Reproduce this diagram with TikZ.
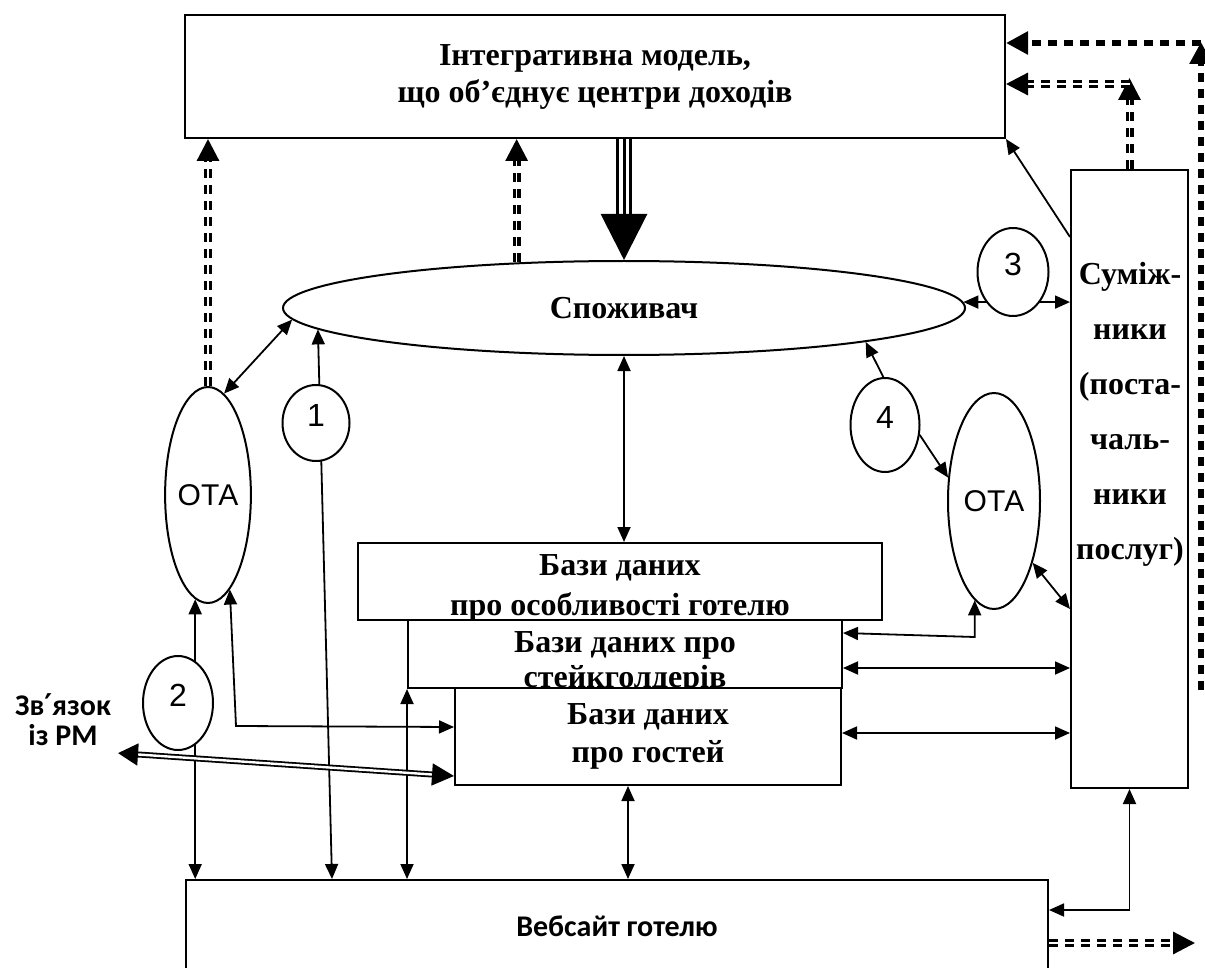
\documentclass[tikz,border=0pt]{standalone}
\usepackage{fontspec}
\setmainfont{Liberation Serif}
\newfontfamily\otafont{Liberation Sans}
\newfontfamily\calfont{Carlito}
\newfontfamily\symfont{DejaVu Sans}
\usetikzlibrary{arrows.meta,calc,shapes.geometric}

\begin{document}
\begin{tikzpicture}[x=0.5pt,y=-0.5pt,
  >={Triangle[length=7.5pt,width=6.5pt]},
  box/.style={draw,line width=1pt,fill=white,inner sep=0pt,align=center,font=\bfseries\fontsize{16}{19}\selectfont},
  dbtext/.style={inner sep=0pt,align=center},
  oval/.style={draw,line width=1pt,ellipse,fill=white,inner sep=0pt},
  num/.style={oval,font=\otafont\fontsize{16}{18}\selectfont,text height=11.5pt,text depth=8pt},
  con/.style={line width=0.9pt},
  dsh/.style={double,double distance=0.8pt,line width=1.6pt,dash pattern=on 4.5pt off 3.5pt,-{Triangle[length=11pt 0,width=11pt 0]}},
  dshb/.style={line width=3pt,dash pattern=on 4.5pt off 3.5pt,-{Triangle[length=11pt 0,width=11pt 0]}}]
\useasboundingbox (0,0) rectangle (1205,968);
\clip (0,0) rectangle (1205,968);

\coordinate (farR) at (1201,690);
\coordinate (out) at (1195,943);

\node[box,minimum width=410pt,minimum height=61.5pt,font=\bfseries\fontsize{16}{18.5}\selectfont] (integr) at (595,76.5) {Інтегративна модель,\\що об’єднує центри доходів};
\node[oval,minimum width=341pt,minimum height=47pt,font=\bfseries\fontsize{16}{19}\selectfont] (cons) at (624,308) {Споживач};
\node[box,minimum width=58.5pt,minimum height=309pt] (supp) at (1129.5,479) {};
\node[font=\bfseries\fontsize{16}{27.5}\selectfont,align=center] (supptext) at (1130,414) {Суміж-\\ники\\(поста-\\чаль-\\ники\\послуг)};
\node[oval,minimum width=39pt,minimum height=108pt,font=\otafont\fontsize{15}{18}\selectfont] (otaL) at (208,495) {ОТА};
\node[oval,minimum width=46pt,minimum height=108pt,font=\otafont\fontsize{15}{18}\selectfont] (otaR) at (994,501) {ОТА};

% stacked data bases, each one covers the lower edge of the one above
\node[box,minimum width=262pt,minimum height=38.5pt] (dbA) at (620,581.5) {};
\node[dbtext,font=\bfseries\fontsize{16}{20}\selectfont] (dbAtext) at ($(dbA)+(0,7)$) {Бази даних\\про особливості готелю};
\node[box,minimum width=217pt,minimum height=34pt] (dbB) at (625,654) {};
\node[dbtext,font=\bfseries\fontsize{16}{17.5}\selectfont] (dbBtext) at ($(dbB)+(0,9)$) {Бази даних про\\стейкголдерів};
\node[box,minimum width=193pt,minimum height=48.5pt,font=\bfseries\fontsize{16}{19}\selectfont] (dbC) at (648,736.5) {Бази даних\\про гостей};
\node[box,minimum width=431pt,minimum height=46pt,font=\calfont\bfseries\fontsize{15}{18}\selectfont] (web) at (617,926) {Вебсайт готелю};
\node[font=\calfont\bfseries\fontsize{15}{15}\selectfont,align=center] (rm) at (63,720) {Зв{\symfont ′}язок\\із РМ};

% dashed flows to the integrative model
\draw[dsh] (otaL.north) -- (otaL.north |- integr.south);
\draw[dsh] (cons.157) -- (cons.157 |- integr.south);
\draw[dsh] (supp.north) -- (supp.north |- 0,78);
\draw[dsh] (supp.north |- 0,84) -- (integr.east |- 0,84);
\draw[dshb] (farR) -- (farR |- 0,42);
\draw[dshb] (farR |- 0,43) -- (integr.east |- 0,43);
\draw[dsh] (web.east |- 0,943) -- (out);

% triple arrow
\draw[line width=1.5pt,double,double distance=5pt] (cons.north |- integr.south) -- ($(cons.north)+(0,-42)$);
\draw[line width=1.5pt,-{Triangle[length=23pt 0,width=23pt 0]}] (cons.north |- integr.south) -- (cons.north);

\draw[con,<->] (otaL.81) -- (cons.182);
\draw[con,<->] (cons.184) -- ($(web.north west)+(147,0)$);
\draw[con,<->] (otaL.263) -- (otaL.263 |- web.north);
\draw[con,<->] (cons.1) -- (cons.1 -| supp.west);
\draw[con,<->] (cons.south) -- (cons.south |- dbA.north);
\draw[con,->] ($(supp.north west)+(0,68)$) -- (integr.south east);
\draw[con,<->] (otaR.302) -- ($(supp.north west)+(0,440)$);
\draw[con,<->] (dbB.east |- 0,633) -- (otaR.259 |- 0,637) -- (otaR.259);
\draw[con,<->] (dbB.east |- 0,668) -- (supp.west |- 0,668);
\draw[con,<->] (dbC.east |- 0,733) -- (supp.west |- 0,733);
\draw[con,<->] (web.east |- 0,910) -- (supp.south |- 0,910) -- (supp.south);
\draw[con,<->] (dbC.south -| 628,0) -- (web.north -| 628,0);
\draw[con,<->] (dbB.south west) -- (dbB.south west |- web.north);
\draw[con,<->] (otaL.283) -- (236,726) -- (dbC.west |- 0,727);
\draw[double,double distance=1.2pt,line width=0.9pt,{Triangle[length=10pt 0,width=11pt 0]}-{Triangle[length=11pt 0,width=11pt 0]}] (rm.south east) -- (dbC.west |- 0,776);

\node[num,minimum width=33.5pt,minimum height=38pt] (c1) at (316,423) {1};
\node[num,minimum width=35pt,minimum height=47pt] (c2) at (178,703) {2};
\node[num,minimum width=35.5pt,minimum height=44pt] (c3) at (1013,272) {3};
\node[num,minimum width=34.5pt,minimum height=47pt] (c4) at (885,425) {4};

\draw[con,->] (c4.92) -- (cons.352);
\draw[con,->] (c4.344) -- (otaR.153);
\end{tikzpicture}
\end{document}
